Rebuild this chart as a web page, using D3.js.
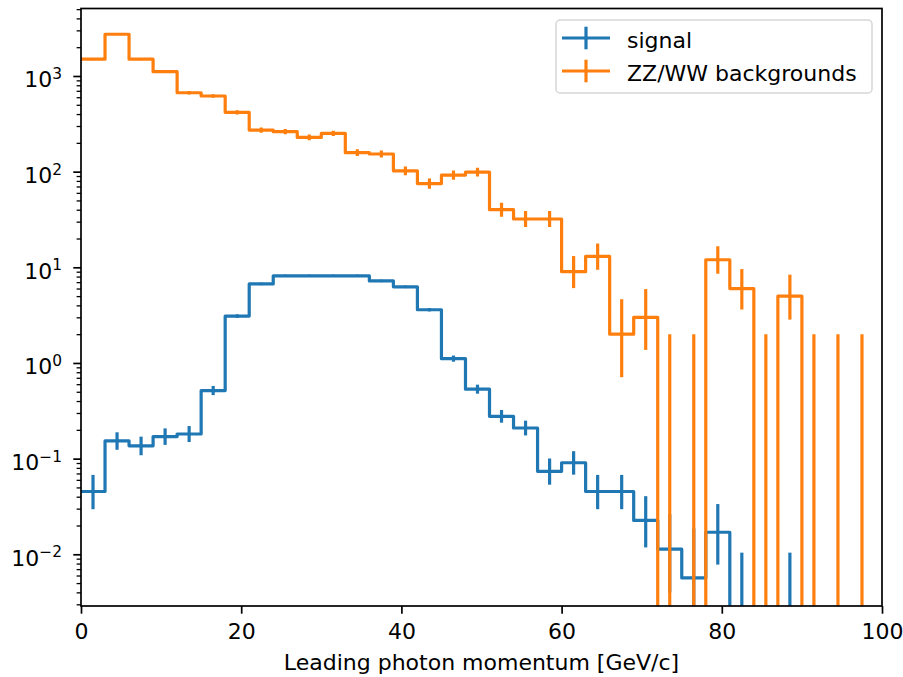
<!DOCTYPE html>
<html>
<head>
<meta charset="utf-8">
<script src="https://cdn.jsdelivr.net/npm/d3@7"></script>
<style>
  body { margin: 0; background: #fff; }
  text { font-family: "DejaVu Sans", sans-serif; fill: #000; }
</style>
</head>
<body>
<svg id="chart" width="903" height="677"></svg>
<script>
// Histogram bins of 3 GeV/c: lower edges, plus the final upper edge
const binEdges = [0, 3, 6, 9, 12, 15, 18, 21, 24, 27, 30, 33, 36, 39, 42, 45, 48,
                  51, 54, 57, 60, 63, 66, 69, 72, 75, 78, 81, 84, 87, 90, 93, 96, 99];

// Signal: weighted yields per bin with asymmetric (Poisson) errors
const signalValues = [0.0453, 0.153, 0.136, 0.170, 0.181, 0.515, 3.09, 6.70, 8.15, 8.15, 8.15,
                      8.15, 7.20, 6.25, 3.60, 1.11, 0.532, 0.277, 0.209, 0.0736, 0.0906, 0.0453,
                      0.0453, 0.0226, 0.0113, 0.00566, 0.0170, 0, 0, 0, 0, 0, 0];
const signalErrLow = [0.0157, 0.0292, 0.0275, 0.0308, 0.0318, 0.0538, 0.132, 0.195, 0.215, 0.215,
                      0.215, 0.215, 0.202, 0.188, 0.143, 0.079, 0.0547, 0.0394, 0.0342, 0.0202,
                      0.0226, 0.0157, 0.0157, 0.0108, 0.0073, 0.0047, 0.0092, 0, 0, 0, 0, 0, 0];
const signalErrHigh = [0.0223, 0.0354, 0.0337, 0.0370, 0.0380, 0.0600, 0.138, 0.201, 0.220, 0.220,
                       0.220, 0.220, 0.208, 0.194, 0.148, 0.0852, 0.0609, 0.0456, 0.0404, 0.0267,
                       0.0290, 0.0223, 0.0223, 0.0179, 0.0149, 0.0130, 0.0165, 0.0104, 0,
                       0.0104, 0, 0, 0];

// ZZ/WW backgrounds: event counts per bin with Poisson errors
const bkgValues = [1500, 2730, 1500, 1110, 668, 618, 417, 272, 262, 228, 251, 158, 153, 102, 75,
                   92, 99, 40, 32, 32, 9, 13, 2, 3, 0, 0, 12, 6, 0, 5, 0, 0, 0];
const bkgErrLow = [38.7, 52.2, 38.7, 33.3, 25.8, 24.8, 20.4, 16.5, 16.2, 15.1, 15.8, 12.5, 12.3,
                   10.1, 8.6, 9.6, 9.9, 6.3, 5.6, 5.6, 2.94, 3.58, 1.29, 1.63, 0, 0, 3.43, 2.38,
                   0, 2.16, 0, 0, 0];
const bkgErrHigh = [39.7, 53.3, 39.7, 34.3, 26.8, 25.9, 21.4, 17.5, 17.2, 16.1, 16.9, 13.6, 13.4,
                    11.1, 9.7, 10.6, 11.0, 7.4, 6.7, 6.7, 4.11, 4.71, 2.64, 2.92, 2.0, 2.0, 4.57,
                    3.58, 2.0, 3.38, 2.0, 2.0, 2.0];

const seriesNames = ["signal", "ZZ/WW backgrounds"];
const seriesColors = ["#1f77b4", "#ff7f0e"];

const xTicks = [0, 20, 40, 60, 80, 100];
const yTickExponents = [-2, -1, 0, 1, 2, 3];
const xLabel = "Leading photon momentum [GeV/c]";

const W = 903, H = 677;
const margin = { left: 81, right: 21, top: 8.5, bottom: 71 };
const width = W - margin.left - margin.right;
const height = H - margin.top - margin.bottom;
const fontSize = 22;
const lineW = 3.2;

const svg = d3.select("#chart");
const g = svg.append("g").attr("transform", `translate(${margin.left},${margin.top})`);

const x = d3.scaleLinear().domain([0, 100]).range([0, width]);
const y = d3.scaleLog().domain([0.00288, 5076]).range([height, 0]);
// non-positive values fall below the axes and get clipped
const yPos = v => (v > 0 ? y(v) : height + 200);

g.append("clipPath").attr("id", "plot-clip")
  .append("rect").attr("width", width).attr("height", height);

const plot = g.append("g").attr("clip-path", "url(#plot-clip)");

const series = [
  { values: signalValues, lo: signalErrLow, hi: signalErrHigh, color: seriesColors[0] },
  { values: bkgValues, lo: bkgErrLow, hi: bkgErrHigh, color: seriesColors[1] }
];

const stepLine = d3.line()
  .x(d => x(d[0]))
  .y(d => yPos(d[1]))
  .curve(d3.curveStepAfter);

series.forEach(s => {
  const pts = s.values.map((v, i) => [binEdges[i], v]);
  pts.push([binEdges[binEdges.length - 1], s.values[s.values.length - 1]]);
  plot.append("path")
    .datum(pts)
    .attr("d", stepLine)
    .attr("fill", "none")
    .attr("stroke", s.color)
    .attr("stroke-width", lineW)
    .attr("stroke-linejoin", "round");

  const bars = s.values.map((v, i) => ({
    xc: (binEdges[i] + binEdges[i + 1]) / 2,
    top: v + s.hi[i],
    bottom: v - s.lo[i]
  })).filter(d => d.top > 0 && d.top !== d.bottom);

  plot.append("g").selectAll("line")
    .data(bars)
    .join("line")
    .attr("x1", d => x(d.xc))
    .attr("x2", d => x(d.xc))
    .attr("y1", d => y(d.top))
    .attr("y2", d => yPos(d.bottom))
    .attr("stroke", s.color)
    .attr("stroke-width", lineW);
});

// x axis
const xAxis = g.append("g")
  .attr("transform", `translate(0,${height})`)
  .call(d3.axisBottom(x).tickValues(xTicks).tickSize(7.7).tickPadding(10).tickFormat(d3.format("d")));
xAxis.select(".domain").remove();
xAxis.selectAll(".tick line").attr("stroke", "#000").attr("stroke-width", 1.7);
xAxis.selectAll(".tick text").attr("font-size", fontSize).attr("font-family", "DejaVu Sans").attr("fill", "#000");

// y axis: minor ticks
const minorTicks = y.ticks().filter(t => Math.abs(Math.log10(t) - Math.round(Math.log10(t))) > 1e-6);
const yMinor = g.append("g")
  .call(d3.axisLeft(y).tickValues(minorTicks).tickSize(4.4).tickFormat(""));
yMinor.select(".domain").remove();
yMinor.selectAll(".tick line").attr("stroke", "#000").attr("stroke-width", 1.3);

// y axis: major ticks with power-of-ten labels
const majorVals = yTickExponents.map(e => Math.pow(10, e));
const yMajor = g.append("g")
  .call(d3.axisLeft(y).tickValues(majorVals).tickSize(7.7).tickFormat(""));
yMajor.select(".domain").remove();
yMajor.selectAll(".tick line").attr("stroke", "#000").attr("stroke-width", 1.7);

const yLabels = g.append("g").selectAll("text")
  .data(yTickExponents)
  .join("text")
  .attr("x", -19)
  .attr("y", e => y(Math.pow(10, e)) + 11.5)
  .attr("text-anchor", "end")
  .attr("font-size", fontSize);
yLabels.append("tspan").text("10");
yLabels.append("tspan")
  .attr("dy", -8.5)
  .attr("font-size", fontSize * 0.7)
  .text(e => (e < 0 ? "\u2212" + Math.abs(e) : String(e)));

// frame
g.append("rect")
  .attr("width", width).attr("height", height)
  .attr("fill", "none").attr("stroke", "#000").attr("stroke-width", 1.7);

// axis title
g.append("text")
  .attr("x", width / 2)
  .attr("y", 670 - margin.top)
  .attr("text-anchor", "middle")
  .attr("font-size", fontSize)
  .text(xLabel);

// legend
const legend = svg.append("g").attr("transform", "translate(556,20)");
legend.append("rect")
  .attr("width", 316).attr("height", 73)
  .attr("rx", 4).attr("ry", 4)
  .attr("fill", "#fff").attr("fill-opacity", 0.8)
  .attr("stroke", "#d6d6d6").attr("stroke-width", 1.5);

const rows = legend.selectAll("g.row")
  .data(seriesNames)
  .join("g")
  .attr("class", "row")
  .attr("transform", (d, i) => `translate(0,${18 + i * 33})`);
rows.append("line")
  .attr("x1", 6).attr("x2", 54).attr("y1", 0).attr("y2", 0)
  .attr("stroke", (d, i) => seriesColors[i]).attr("stroke-width", lineW);
rows.append("line")
  .attr("x1", 30).attr("x2", 30).attr("y1", -11.3).attr("y2", 11.3)
  .attr("stroke", (d, i) => seriesColors[i]).attr("stroke-width", lineW);
rows.append("text")
  .attr("x", 71).attr("y", 10)
  .attr("font-size", fontSize)
  .text(d => d);
</script>
</body>
</html>
